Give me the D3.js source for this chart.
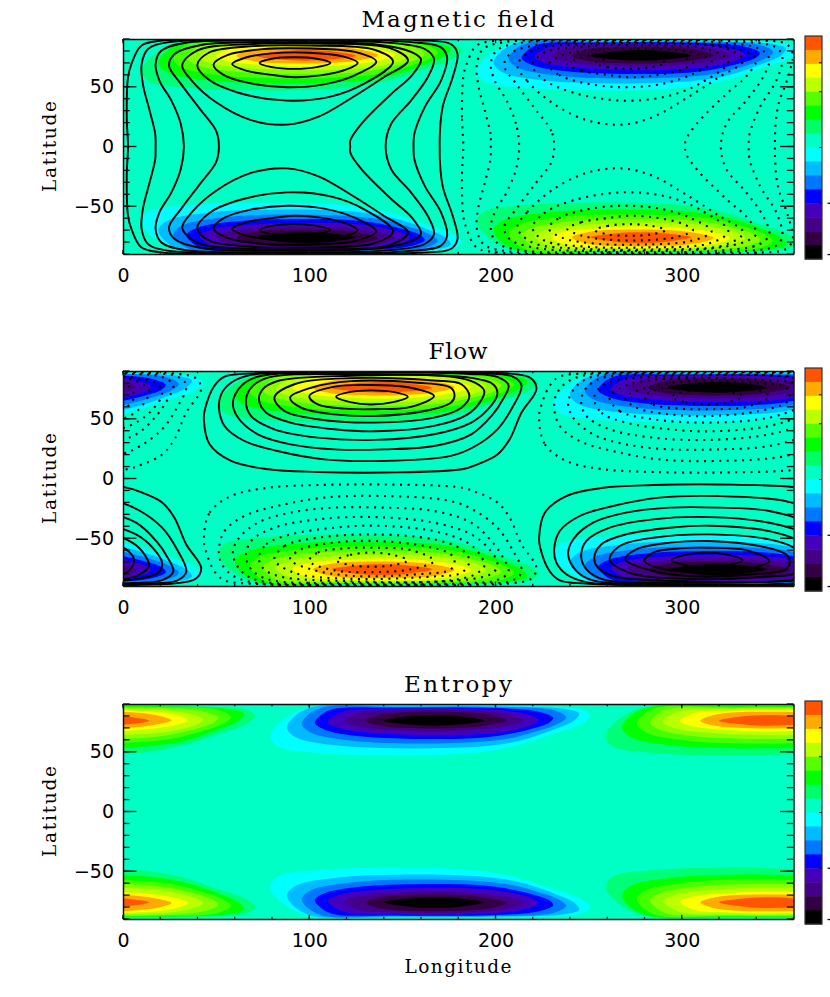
<!DOCTYPE html>
<html>
<head>
<meta charset="utf-8">
<script src="https://cdn.jsdelivr.net/npm/d3@7"></script>
<style>
  html, body { margin: 0; padding: 0; background: #fff; overflow: hidden; }
  svg { display: block; }
</style>
</head>
<body>
<script>
const panelTitles = ["Magnetic field", "Flow", "Entropy"];
const lonTicks = [0, 100, 200, 300];
const lonMinorTicks = d3.range(0, 361, 20);
const latTicks = [-50, 0, 50];
const latMinorTicks = d3.range(-90, 91, 10);

// colour bar blocks, top to bottom
const barColors = ["#ff5500", "#ffaa00", "#ffff00", "#bbff00", "#55ff00", "#00ff00", "#00ff66", "#00ffc4",
                   "#00ffff", "#00bbff", "#0077ff", "#0000ff", "#4400bb", "#440088", "#330044", "#000000"];
const barTickFractions = [0.12, 0.25, 0.5, 0.75];
const barLabelFractions = [0.75, 0.98];
const backgroundColor = "#00ffc4";
const positiveColors = ["#00ff77", "#00ff00", "#44ff00", "#88ff00", "#bbff00", "#ffff00", "#ffaa00", "#ff5500"];
const negativeColors = ["#00ffff", "#00bbff", "#0077ff", "#0000ff", "#4400bb", "#440088", "#330044", "#000000"];

// filled bands of one polar lobe, outer to inner: [longitude from lobe centre, latitude]
const lobeBands = [
  [[-70,86],[-84,73],[-88,63],[-84,54.5],[-62,49],[-27,47],[11,48],[29,50.5],[47,56],[65,65.5],[78,72.5],[84,80],[80,85],[65,87.5],[20,88.8],[-40,88]],
  [[-66,87],[-76,78],[-79,70],[-74,62],[-50,55],[-20,53],[15,53.5],[35,56],[50,61],[65,69],[75,76],[78,82],[70,86],[40,88],[-20,88.5]],
  [[-60,87],[-69,79],[-71,73],[-66,66],[-45,59.5],[-15,57],[15,57.5],[38,60.5],[55,67],[66,73],[71,79],[64,85],[30,87.5],[-20,87.5]],
  [[-55,85.5],[-62,79],[-64,74],[-58,68],[-40,63],[-15,61],[15,61],[35,63.5],[52,69],[62,74.5],[64,78.5],[55,84],[25,87],[-20,87]],
  [[-48,84],[-57,75],[-50,69.5],[-30,65.5],[-5,64],[20,64.5],[40,67.5],[53,73],[56,77],[45,83],[15,86],[-20,86]],
  [[-40,82.5],[-48,75.5],[-40,71],[-20,68],[5,67],[30,69.5],[43,73],[48,76.5],[38,82],[10,85],[-20,84.5]],
  [[-28,81.5],[-37,76],[-28,71.5],[-5,69.5],[20,70.5],[33,73.5],[39,76.5],[28,81.5],[5,83.5]],
  [[-27,76],[-15,73],[0,71.8],[15,73],[27,76],[15,79.5],[0,80.8],[-15,79.5]]
];

// where the lobes sit in each panel: [centre longitude, hemisphere, sign]
const magneticLobes = [[98, 1, 1], [278, 1, -1], [98, -1, -1], [278, -1, 1]];
const flowLobes = [[139, 1, 1], [319, 1, -1], [139, -1, 1], [319, -1, -1]];
const entropyLobes = [[347, 1, 1], [167, 1, -1], [347, -1, 1], [167, -1, -1]];

// magnetic field lines round the northern peak
const magneticLoops = [
  [[73.3,70],[80,66.5],[92,65],[104,66.5],[111.4,70],[104,73.5],[92,74.7],[80,73.5]],
  [[58.6,69],[66,63.5],[80,60],[92,58],[106,59.5],[120,64.5],[126,70],[118,75.5],[100,78.5],[80,78],[66,74.5]],
  [[48.6,68.5],[54,60],[68,53],[88,49.6],[108,52],[125,60],[136,71],[125,79],[100,82],[75,81.5],[56,76.5]],
  [[39.9,68],[46,56],[62,45],[88,38.4],[112,42],[130,53],[145,71],[135,81],[100,84.5],[70,84],[46,78.5]],
  [[31.8,68],[37,55],[50,37],[68,22.5],[88,18.3],[105,25],[122,40],[140,58],[153,72],[143,82.5],[105,86.2],[70,85.8],[40,80.5]]
];

// magnetic field lines joining both hemispheres: northern half, equator to equator
const magneticArches = [
  [[51.5,0],[50,13],[42,30],[31.3,52],[24.7,67.7],[27.7,77.5],[42,85],[87,87.2],[137,85.2],[155,79],[160,73],[155,59.3],[144,44],[128,19],[122,5],[122,0]],
  [[32.7,0],[31,19],[26,38.4],[19.6,55],[17.5,69],[20.5,80.2],[33,86.7],[87,88.4],[140,87.2],[162,81.6],[167,73.3],[163.6,58],[154.6,38.4],[144,19],[141,0]],
  [[17.5,0],[17.3,10.5],[14.3,30],[10.7,52],[10,69],[13.4,81.6],[24,87.2],[87,89.1],[149,88],[170.7,83],[174,74.7],[170.7,55],[162,33],[156.4,10.5],[156,0]],
  [[2.7,0],[2,24.5],[2.7,58],[4.5,69],[9.8,84.4],[20.5,88.6],[87,89.7],[158,89],[176,85.8],[179.6,77.5],[177,58],[171.6,33],[170,0]]
];

// flow stream lines of the northern solid cell
const flowLoops = [
  [[114.4,68.5],[122,64],[133,62],[145,64],[152.9,68.5],[145,72.5],[133,73.8],[122,72.5]],
  [[100,69],[104.6,62],[119,58.5],[135,58],[154.6,60],[167,69],[154.6,76],[135,78.3],[113.5,76.9]],
  [[89.7,67.7],[95.6,59.3],[113.5,53.7],[135,52.3],[161.8,56.5],[176,63.5],[178,69],[176,76],[158,80.2],[122.5,81.5],[101,76]],
  [[81.3,67.7],[86.7,56.5],[104.6,49.6],[135,46.8],[167,51],[181.7,59.3],[186,69],[181.7,78.9],[167,82],[122.5,84],[92,78.9]],
  [[73,66.3],[76.9,55],[90,46.8],[113.5,41.2],[135,39.5],[167,44],[185,53.7],[191.5,63.5],[194,73.3],[189,80.2],[176,85.3],[122.5,86],[83,81.6],[75,74.7]],
  [[66,65],[68.8,52.3],[81.3,41.2],[104.6,34.2],[135,32.3],[167,37],[187,46.8],[196,58],[201,70.5],[199,78.5],[188,84],[122.5,87.3],[77.8,84.4],[68.8,76]],
  [[59,63.5],[61.7,51],[72.4,37],[90,28.6],[113.5,24.4],[140,24.4],[167,27.2],[187,37],[197.8,52.3],[204,66.3],[207,78],[201,85],[186,87.5],[122.5,88.5],[72.4,85.3],[63.5,77.5]],
  [[51.5,59.3],[54.5,44],[65.2,31.4],[83,23],[108,16],[140,14.7],[176,18.9],[189,27],[201,41.2],[208.5,58],[214,78],[209,85.5],[192,88],[122.5,89],[68.8,86.7],[58,80.2],[52.7,70.5]],
  [[43.4,49.6],[46.5,28.6],[58,14.7],[78,7.7],[104.6,5.5],[140,5],[182,7.7],[190.6,12],[201,20],[207.6,32.8],[213.9,55],[222,75],[219,84],[208,87.8],[190,89],[122.5,89.7],[68.8,88],[54.5,85.3],[49,77.5],[44,58]]
];

// [longitude offset, hemisphere, dotted]
const magneticLinePlaces = [[0, 1, false], [0, -1, false], [180, 1, true], [180, -1, true]];
const flowLinePlaces = [[0, 1, false], [180, -1, false], [180, 1, true], [0, -1, true]];

const mirrorArch = half => half.concat(half.slice(1, -1).reverse().map(([lon, lat]) => [lon, -lat]));

const magneticLines = magneticLinePlaces.flatMap(([off, hemi, dotted]) => {
  const loops = magneticLoops.map(c => ({ pts: c, off, hemi, dotted }));
  // the arches are already both-hemisphere shapes, draw them once per side
  return hemi === 1 ? loops.concat(magneticArches.map(a => ({ pts: mirrorArch(a), off, hemi, dotted }))) : loops;
});
const flowLines = flowLinePlaces.flatMap(([off, hemi, dotted]) =>
  flowLoops.map(c => ({ pts: c, off, hemi, dotted })));

const panels = [
  { title: panelTitles[0], top: 39, titleLen: 193, lobes: magneticLobes, lines: magneticLines },
  { title: panelTitles[1], top: 371, titleLen: 59, lobes: flowLobes, lines: flowLines },
  { title: panelTitles[2], top: 704, titleLen: 108, lobes: entropyLobes, lines: [] }
];

const width = 830, height = 997;
const plotLeft = 123, plotRight = 793.5, plotHeight = 215;
const barLeft = 805, barRight = 822;
const xTickLen = 4.3, yTickLen = 13.4;

const svg = d3.select("body").append("svg").attr("width", width).attr("height", height);
const x = d3.scaleLinear().domain([0, 360]).range([plotLeft, plotRight]);

// inward tick marks on a horizontal (x) or vertical (y) frame edge
function drawXTicks(parent, values, edgeY, len) {
  parent.append("g").selectAll("line").data(values).join("line")
    .attr("x1", d => x(d)).attr("x2", d => x(d))
    .attr("y1", edgeY).attr("y2", edgeY + len)
    .attr("stroke", "#111").attr("stroke-width", 1.3);
}
function drawYTicks(parent, values, scale, edgeX, len) {
  parent.append("g").selectAll("line").data(values).join("line")
    .attr("y1", d => scale(d)).attr("y2", d => scale(d))
    .attr("x1", edgeX).attr("x2", edgeX + len)
    .attr("stroke", "#111").attr("stroke-width", 1.3);
}

panels.forEach((panel, i) => {
  const top = panel.top, bottom = top + plotHeight;
  const y = d3.scaleLinear().domain([-90, 90]).range([bottom, top]);
  const g = svg.append("g").attr("class", `panel-${i}`);
  const clipId = `clip-${i}`;

  svg.append("clipPath").attr("id", clipId).append("rect")
    .attr("x", plotLeft).attr("y", top).attr("width", plotRight - plotLeft).attr("height", plotHeight);

  const plot = g.append("g").attr("clip-path", `url(#${clipId})`);
  plot.append("rect")
    .attr("x", plotLeft).attr("y", top).attr("width", plotRight - plotLeft).attr("height", plotHeight)
    .attr("fill", backgroundColor);

  const outline = d3.line().x(d => x(d[0])).y(d => y(d[1])).curve(d3.curveCatmullRomClosed.alpha(0.5));

  // filled bands, each lobe also repeated one period either side for the wrap round
  panel.lobes.forEach(([center, hemi, sign]) => {
    const colors = sign > 0 ? positiveColors : negativeColors;
    [-360, 0, 360].forEach(wrap => {
      lobeBands.forEach((band, k) => {
        plot.append("path")
          .attr("d", outline(band.map(([dlon, lat]) => [center + wrap + dlon, hemi * lat])))
          .attr("fill", colors[k]);
      });
    });
  });

  // contour lines, solid and dotted
  panel.lines.forEach(line => {
    [-360, 0, 360].forEach(wrap => {
      plot.append("path")
        .attr("d", outline(line.pts.map(([lon, lat]) => [lon + line.off + wrap, line.hemi * lat])))
        .attr("fill", "none")
        .attr("stroke", "#000")
        .attr("stroke-width", line.dotted ? 2.1 : 1.9)
        .attr("stroke-dasharray", line.dotted ? "2 5.6" : null);
    });
  });

  // frame and labels come from the axes, the inward ticks are drawn after them
  const styleAxis = s => {
    s.select("path.domain").attr("stroke", "#111").attr("stroke-width", 1.5);
    s.selectAll("text").attr("font-family", "DejaVu Sans").attr("font-size", 19).attr("fill", "#000");
  };
  g.append("g").attr("transform", `translate(0,${bottom})`)
    .call(d3.axisBottom(x).tickValues(lonTicks).tickSize(0).tickPadding(15)).call(styleAxis);
  g.append("g").attr("transform", `translate(0,${top})`)
    .call(d3.axisTop(x).tickValues([]).tickSize(0)).call(styleAxis);
  g.append("g").attr("transform", `translate(${plotLeft},0)`)
    .call(d3.axisLeft(y).tickValues(latTicks).tickSize(0).tickPadding(9)
      .tickFormat(d => d < 0 ? "\u2212" + Math.abs(d) : d)).call(styleAxis);
  g.append("g").attr("transform", `translate(${plotRight},0)`)
    .call(d3.axisRight(y).tickValues([]).tickSize(0)).call(styleAxis);

  const lonMajor = [...lonTicks];
  drawXTicks(g, lonMinorTicks, bottom, -xTickLen / 2);
  drawXTicks(g, lonMinorTicks, top, xTickLen / 2);
  drawXTicks(g, lonMajor, bottom, -xTickLen);
  drawXTicks(g, lonMajor, top, xTickLen);
  drawYTicks(g, latMinorTicks, y, plotLeft, yTickLen / 2);
  drawYTicks(g, latMinorTicks, y, plotRight, -yTickLen / 2);
  drawYTicks(g, latTicks, y, plotLeft, yTickLen);
  drawYTicks(g, latTicks, y, plotRight, -yTickLen);

  g.append("text")
    .attr("x", 458).attr("y", top - 12)
    .attr("text-anchor", "middle")
    .attr("font-family", "DejaVu Serif").attr("font-size", 23)
    .attr("textLength", panel.titleLen).attr("lengthAdjust", "spacing")
    .text(panel.title);

  g.append("text")
    .attr("transform", `translate(56,${(top + bottom) / 2}) rotate(-90)`)
    .attr("text-anchor", "middle")
    .attr("font-family", "DejaVu Serif").attr("font-size", 18.5)
    .attr("textLength", 91).attr("lengthAdjust", "spacing")
    .text("Latitude");

  // colour bar
  const barTop = top - 3, barHeight = 223;
  const band = d3.scaleBand().domain(d3.range(barColors.length)).range([barTop, barTop + barHeight]);
  const bar = g.append("g");
  bar.selectAll("rect").data(barColors).join("rect")
    .attr("x", barLeft).attr("y", (d, k) => band(k))
    .attr("width", barRight - barLeft).attr("height", band.bandwidth() + 0.5)
    .attr("fill", d => d);
  bar.append("rect")
    .attr("x", barLeft).attr("y", barTop).attr("width", barRight - barLeft).attr("height", barHeight)
    .attr("fill", "none").attr("stroke", "#333").attr("stroke-width", 1.2);
  bar.selectAll("line.tick").data(barTickFractions).join("line").attr("class", "tick")
    .attr("x1", barRight - 3).attr("x2", barRight)
    .attr("y1", d => barTop + d * barHeight).attr("y2", d => barTop + d * barHeight)
    .attr("stroke", "#111").attr("stroke-width", 1);
  // minus signs of the bar labels, the rest falls outside the window
  bar.selectAll("line.label").data(barLabelFractions).join("line").attr("class", "label")
    .attr("x1", 827.5).attr("x2", 830)
    .attr("y1", d => barTop + d * barHeight).attr("y2", d => barTop + d * barHeight)
    .attr("stroke", "#111").attr("stroke-width", 1.3);
});

svg.append("text")
  .attr("x", 458).attr("y", 973)
  .attr("text-anchor", "middle")
  .attr("font-family", "DejaVu Serif").attr("font-size", 18.5)
  .attr("textLength", 107).attr("lengthAdjust", "spacing")
  .text("Longitude");
</script>
</body>
</html>
